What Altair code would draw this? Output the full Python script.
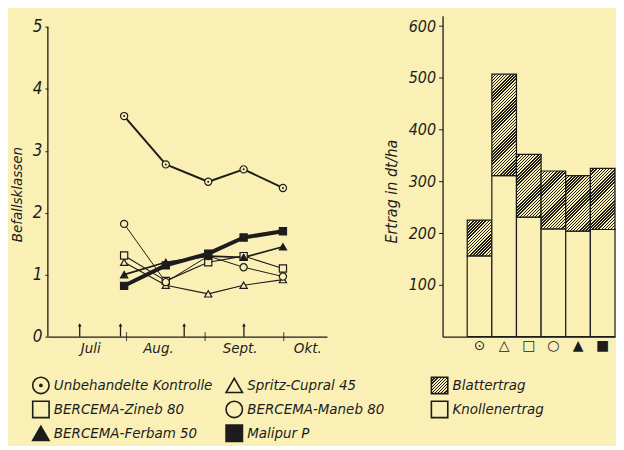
import json
import altair as alt

BG = "#FAF0B6"
INK = "#1c1c1c"
FONT = "DejaVu Sans Condensed"

# ---------------- data ----------------
monate = ["Juli", "Aug.", "Sept.", "Okt."]
monatsgrenzen = [1, 2, 3]                       # Monatswechsel (Monate ab 1. Juli)
boniturtermine = [0.97, 1.5, 2.04, 2.49, 2.99]  # Monate ab 1. Juli
spritztermine = [0.405, 0.924, 1.734, 2.494]

behandlungen = ["Unbehandelte Kontrolle", "Spritz-Cupral 45", "BERCEMA-Zineb 80",
                "BERCEMA-Maneb 80", "BERCEMA-Ferbam 50", "Malipur P"]
zeichen = ["⊙", "△", "□", "○", "▲", "■"]

befall_kontrolle = [3.56, 2.78, 2.50, 2.70, 2.40]
befall_cupral = [1.20, 0.83, 0.69, 0.83, 0.92]
befall_zineb = [1.31, 0.90, 1.20, 1.30, 1.10]
befall_maneb = [1.82, 0.88, 1.30, 1.12, 0.97]
befall_ferbam = [1.00, 1.20, 1.30, 1.28, 1.45]
befall_malipur = [0.82, 1.15, 1.34, 1.60, 1.70]
befall_reihen = [befall_kontrolle, befall_cupral, befall_zineb,
                 befall_maneb, befall_ferbam, befall_malipur]

knollenertrag = [156, 311, 231, 208, 204, 207]
blattertrag = [69, 196, 121, 112, 107, 118]
ertragsteile = ["Blattertrag", "Knollenertrag"]

# ---------------- layout ----------------
W_L, W_R, H = 280, 173, 322
X_MAX, Y_MAX_L, Y_MAX_R = 3.55, 5.18, 620


def schraffur(w, h, abstand=2.2, anteil=0.47):
    """diagonal 45-degree hatch as a linear gradient; t runs 0..1 from corner to corner"""
    c = (w + h) / (w * w + h * h)
    P = abstand * 2 ** 0.5           # period measured along x+y
    L = w + h
    stops = []
    k = 0
    while k * P < L:
        t0 = k * P / L
        t1 = min((k + anteil) * P / L, 1)
        stops += [{"offset": t0, "color": BG}, {"offset": t0, "color": INK},
                  {"offset": t1, "color": INK}, {"offset": t1, "color": BG}]
        k += 1
    return {"gradient": "linear", "x1": 0, "y1": 0, "x2": w * c, "y2": h * c, "stops": stops}


# ---------------- left chart ----------------
befall_rows = [{"Behandlung": b, "Termin": t, "Befall": v}
               for b, reihe in zip(behandlungen, befall_reihen)
               for t, v in zip(boniturtermine, reihe)]
befall = alt.Data(values=befall_rows)

xs = alt.Scale(domain=[0, X_MAX], nice=False, zero=True)
ys = alt.Scale(domain=[0, Y_MAX_L], nice=False)

x_axis = alt.Axis(values=[0.54, 1.4, 2.44, 3.3],
                  labelExpr="%s[floor(datum.value)]" % json.dumps(monate),
                  ticks=False, grid=False, domain=True, domainColor=INK, domainWidth=1.3,
                  labelFont=FONT, labelFontStyle="italic", labelFontSize=15,
                  labelColor=INK, labelPadding=4, title=None)
y_axis = alt.Axis(values=[0, 1, 2, 3, 4, 5], domain=False, ticks=True, tickSize=3,
                  tickColor=INK, grid=False, labelFont=FONT, labelFontStyle="italic",
                  labelFontSize=17, labelColor=INK, labelPadding=3,
                  title="Befallsklassen", titleFont=FONT, titleFontStyle="italic",
                  titleFontWeight="normal", titleFontSize=15, titleColor=INK,
                  titleX=-23, titleY=179)


def X(field):
    return alt.X(field, type="quantitative", scale=xs, axis=x_axis)


def Y(field):
    return alt.Y(field, type="quantitative", scale=ys, axis=y_axis)


linienbreite = {behandlungen[0]: 2.0, behandlungen[1]: 1.1, behandlungen[2]: 1.1,
                behandlungen[3]: 1.0, behandlungen[4]: 1.7, behandlungen[5]: 4.0}

layers_l = []
for b in behandlungen:
    layers_l.append(
        alt.Chart(befall).transform_filter(alt.datum.Behandlung == b)
        .mark_line(color=INK, strokeWidth=linienbreite[b], strokeCap="round", strokeJoin="round")
        .encode(x=X("Termin"), y=Y("Befall")))

punkte = alt.Chart(befall).mark_point(filled=True, stroke=INK, strokeWidth=1.2, opacity=1, size=52).encode(
    x=X("Termin"), y=Y("Befall"),
    shape=alt.Shape("Behandlung:N", scale=alt.Scale(
        domain=behandlungen,
        range=["circle", "triangle-up", "square", "circle", "triangle-up", "square"]), legend=None),
    fill=alt.Fill("Behandlung:N", scale=alt.Scale(
        domain=behandlungen, range=[BG, BG, BG, BG, INK, INK]), legend=None))
punkt_mitte = alt.Chart(befall).transform_filter(
    alt.datum.Behandlung == behandlungen[0]).mark_point(
    filled=True, color=INK, size=4, opacity=1).encode(x=X("Termin"), y=Y("Befall"))

achse_y = alt.Chart(alt.Data(values=[{"y0": 0, "y1": 5}])).mark_rule(
    color=INK, strokeWidth=1.3).encode(x=alt.value(0), y=Y("y0"), y2="y1:Q")

grenzen = alt.Chart(alt.Data(values=[{"m": m, "null": 0} for m in monatsgrenzen])).mark_tick(
    color=INK, thickness=1.2, size=9).encode(x=X("m"), y=Y("null"))

spritz = alt.Data(values=[{"t": t, "fuss": 0, "kopf": 0.19} for t in spritztermine])
pfeil_schaft = alt.Chart(spritz).mark_rule(color=INK, strokeWidth=1.3).encode(
    x=X("t"), y=Y("fuss"), y2="kopf:Q")
pfeil_spitze = alt.Chart(spritz).mark_point(
    shape="triangle-up", filled=True, color=INK, size=14, opacity=1).encode(
    x=X("t"), y=Y("kopf"))

left = alt.layer(*layers_l, punkte, punkt_mitte, achse_y, grenzen,
                 pfeil_schaft, pfeil_spitze).properties(width=W_L, height=H)

# ---------------- right chart ----------------
step = W_R / 7
px = H / Y_MAX_R
balken_rows = []
for z, k, b in zip(zeichen, knollenertrag, blattertrag):
    balken_rows.append({"Zeichen": z, "Teil": ertragsteile[1], "von": 0, "bis": k, "fuellung": BG})
    balken_rows.append({"Zeichen": z, "Teil": ertragsteile[0], "von": k, "bis": k + b,
                        "fuellung": schraffur(step, b * px)})

right = alt.Chart(alt.Data(values=balken_rows)).mark_bar(
    stroke=INK, strokeWidth=1.2, aria=False).encode(
    x=alt.X("Zeichen:N", sort=zeichen,
            scale=alt.Scale(domain=zeichen, paddingInner=0, paddingOuter=0.5, align=1),
            axis=alt.Axis(ticks=False, domain=True, domainColor=INK, domainWidth=1.3,
                          labelAngle=0, labelFont="DejaVu Sans", labelFontSize=14,
                          labelColor=INK, labelPadding=2, title=None)),
    y=alt.Y("von:Q", scale=alt.Scale(domain=[0, Y_MAX_R], nice=False),
            axis=alt.Axis(values=[100, 200, 300, 400, 500, 600], grid=False, domain=True,
                          domainColor=INK, domainWidth=1.3, ticks=True, tickSize=4,
                          tickColor=INK, labelFont=FONT, labelFontStyle="italic",
                          labelFontSize=16, labelColor=INK, labelPadding=3,
                          title="Ertrag in dt/ha", titleFont=FONT, titleFontStyle="italic",
                          titleFontWeight="normal", titleFontSize=16, titleColor=INK,
                          titleX=-43, titleY=176)),
    y2="bis:Q",
    fill=alt.Fill("fuellung:N", scale=None),
).properties(width=W_R, height=H)

# ---------------- legend ----------------
leg_names = [behandlungen[0], behandlungen[2], behandlungen[4],
             behandlungen[1], behandlungen[3], behandlungen[5],
             ertragsteile[0], ertragsteile[1]]
leg_rows = [{"Eintrag": n, "col": i // 3, "row": i % 3} for i, n in enumerate(leg_names)]
leg = alt.Data(values=leg_rows)
lx = alt.X("col:Q", scale=alt.Scale(domain=[0, 1, 2], range=[-7, 187, 393]), axis=None)
ly = alt.Y("row:Q", scale=alt.Scale(domain=[0, 1, 2], range=[30, 54, 78]), axis=None)

leg_text = alt.Chart(leg).mark_text(
    align="left", baseline="middle", dx=13, font=FONT, fontStyle="italic",
    fontSize=15, color=INK).encode(x=lx, y=ly, text="Eintrag:N")

SYM = 270
sym_names = leg_names[:6] + [ertragsteile[1]]
leg_sym = alt.Chart(leg).transform_filter(
    alt.FieldOneOfPredicate(field="Eintrag", oneOf=sym_names)).mark_point(
    filled=True, stroke=INK, strokeWidth=1.6, opacity=1, size=SYM).encode(
    x=lx, y=ly,
    shape=alt.Shape("Eintrag:N", scale=alt.Scale(
        domain=sym_names,
        range=["circle", "square", "triangle-up", "triangle-up", "circle", "square", "square"]),
        legend=None),
    fill=alt.Fill("Eintrag:N", scale=alt.Scale(
        domain=sym_names, range=[BG, BG, INK, BG, BG, INK, BG]), legend=None))
leg_dot = alt.Chart(leg).transform_filter(alt.datum.Eintrag == behandlungen[0]).mark_point(
    filled=True, color=INK, size=14, opacity=1).encode(x=lx, y=ly)
leg_hatch = alt.Chart(leg).transform_filter(alt.datum.Eintrag == ertragsteile[0]).mark_point(
    shape="square", filled=True, fill=schraffur(16.4, 16.4), stroke=INK, strokeWidth=1.6,
    opacity=1, size=SYM).encode(x=lx, y=ly)

legend = alt.layer(leg_sym, leg_dot, leg_hatch, leg_text).properties(width=400, height=78)

chart = alt.vconcat(
    alt.hconcat(left, right, spacing=57),
    legend, spacing=0,
).resolve_scale(shape="independent", fill="independent").properties(
    background=BG, padding={"left": 2, "top": 7, "right": 0, "bottom": 0}
).configure_view(strokeWidth=0)

chart.save("out.html", embed_options={"renderer": "svg", "actions": False})
